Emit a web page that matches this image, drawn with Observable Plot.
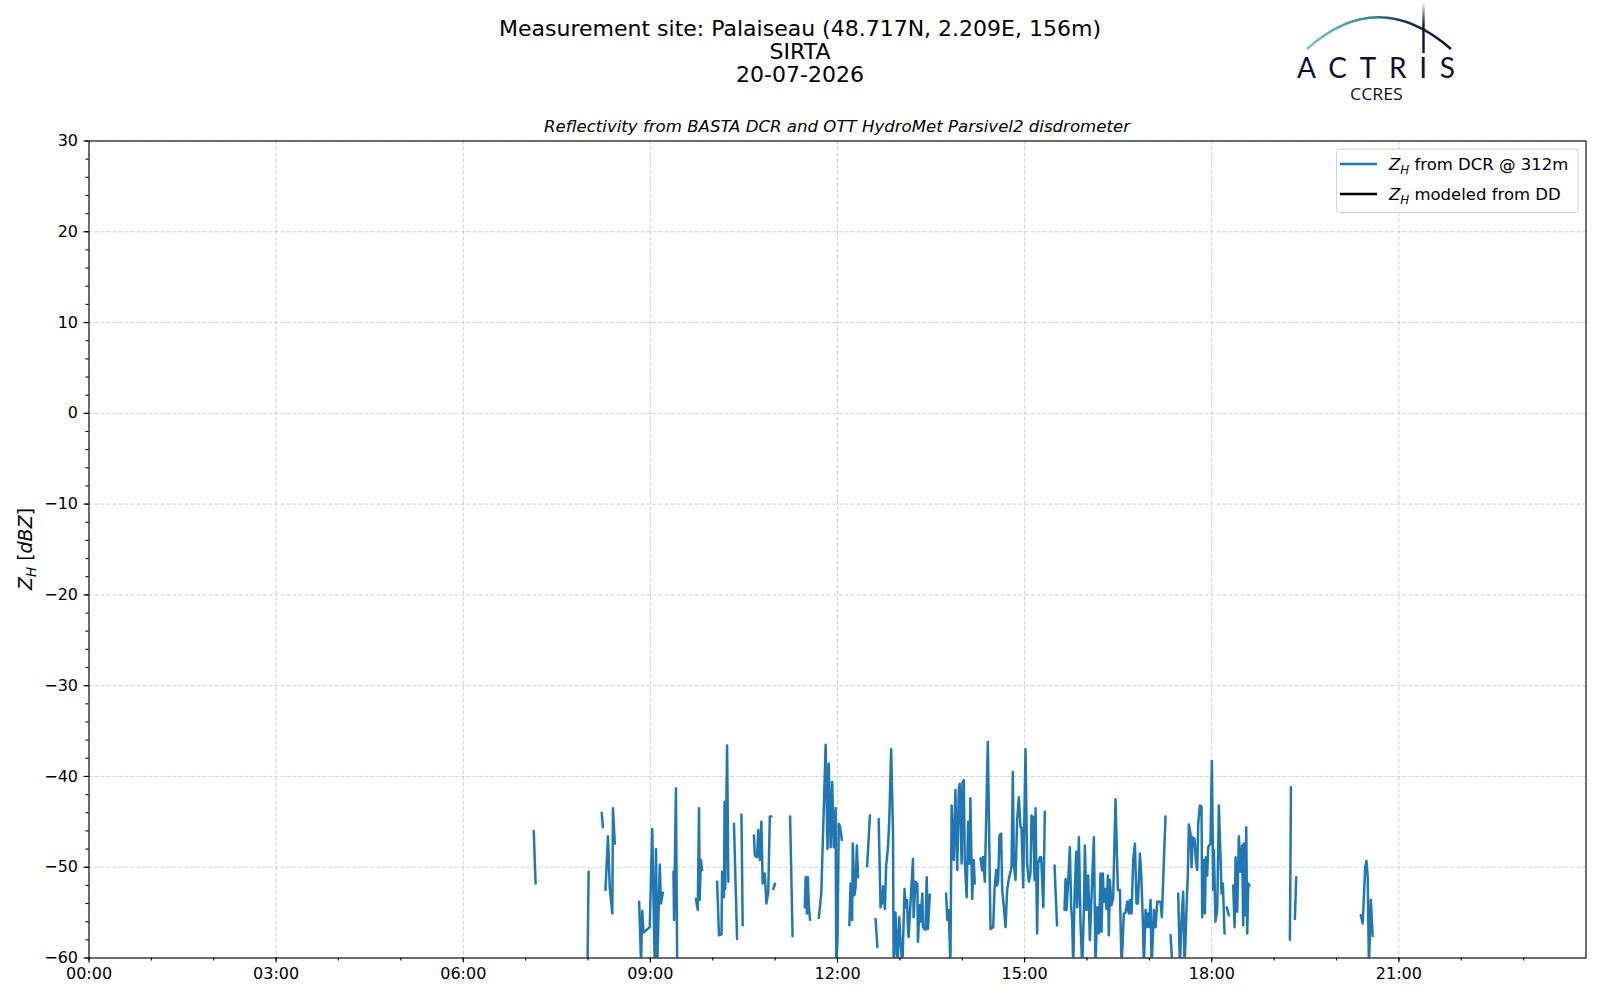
<!DOCTYPE html>
<html><head><meta charset="utf-8">
<script src="https://cdn.jsdelivr.net/npm/d3@7"></script>
<script src="https://cdn.jsdelivr.net/npm/@observablehq/plot@0.6"></script>
<style>
body{margin:0;background:#fff;}
#wrap{position:relative;width:1600px;height:1000px;overflow:hidden;font-family:"DejaVu Sans",sans-serif;}
#plot{position:absolute;left:0;top:0;}
#over{position:absolute;left:0;top:0;pointer-events:none;}
</style></head>
<body><div id="wrap"><div id="plot"></div>
<svg id="over" width="1600" height="1000" xmlns="http://www.w3.org/2000/svg" font-family="DejaVu Sans, sans-serif">
  <defs>
    <linearGradient id="arcg" x1="1307" y1="0" x2="1450" y2="0" gradientUnits="userSpaceOnUse">
      <stop offset="0" stop-color="#79c9c6"/>
      <stop offset="0.45" stop-color="#2b8693"/>
      <stop offset="0.7" stop-color="#15304f"/>
      <stop offset="1" stop-color="#0d1030"/>
    </linearGradient>
    <linearGradient id="vg" x1="0" y1="2" x2="0" y2="53" gradientUnits="userSpaceOnUse">
      <stop offset="0" stop-color="#ffffff"/>
      <stop offset="0.45" stop-color="#0d1030"/>
      <stop offset="1" stop-color="#0d1030"/>
    </linearGradient>
  </defs>
  <g font-size="22" text-anchor="middle" fill="#000">
    <text x="800" y="36">Measurement site: Palaiseau (48.717N, 2.209E, 156m)</text>
    <text x="800" y="59">SIRTA</text>
    <text x="800" y="82">20-07-2026</text>
  </g>
  <text x="837" y="132" font-size="16.6" font-style="italic" text-anchor="middle">Reflectivity from BASTA DCR and OTT HydroMet Parsivel2 disdrometer</text>
  <text transform="translate(31.5,549) rotate(-90)" font-size="19" text-anchor="middle"><tspan font-style="italic">Z</tspan><tspan font-style="italic" font-size="13.5" dy="4">H</tspan><tspan dy="-4"> [</tspan><tspan font-style="italic">dBZ</tspan><tspan>]</tspan></text>
  <!-- legend -->
  <rect x="1336.5" y="149" width="241.5" height="63.5" rx="3" fill="#fff" fill-opacity="0.8" stroke="#d0d0d0" stroke-width="1"/>
  <line x1="1340" x2="1377" y1="164" y2="164" stroke="#1f77b4" stroke-width="2.5"/>
  <line x1="1340" x2="1377" y1="194" y2="194" stroke="#000" stroke-width="2.5"/>
  <g font-size="16.5" fill="#000">
    <text x="1389" y="170"><tspan font-style="italic">Z</tspan><tspan font-style="italic" font-size="11.8" dy="3.5">H</tspan><tspan dy="-3.5"> from DCR @ 312m</tspan></text>
    <text x="1389" y="200"><tspan font-style="italic">Z</tspan><tspan font-style="italic" font-size="11.8" dy="3.5">H</tspan><tspan dy="-3.5"> modeled from DD</tspan></text>
  </g>
  <!-- logo -->
  <path d="M1307,49 Q1378,-14.5 1451,49" fill="none" stroke="url(#arcg)" stroke-width="2.6"/>
  <line x1="1423.5" x2="1423.5" y1="2" y2="53" stroke="url(#vg)" stroke-width="2.4"/>
  <text x="1297" y="78.3" font-family="Lato, 'Open Sans', sans-serif" font-size="28" fill="#0d1030" textLength="158" lengthAdjust="spacing">ACTRIS</text>
  <text x="1350" y="99.5" font-family="'Open Sans', Lato, sans-serif" font-size="17" fill="#0d1030" textLength="52.7" lengthAdjust="spacingAndGlyphs">CCRES</text>
</svg>
</div>
<script>
// time of day (decimal hours) and reflectivity Z_H (dBZ); null marks a gap in the series
const hours = [
 7.13,7.16,null,
 7.99,8.01,null,
 8.22,8.24,null,
 8.28,8.32,8.35,8.39,8.40,8.43,null,
 8.82,8.85,8.87,8.89,8.99,9.03,9.07,9.09,9.11,9.15,9.17,9.20,null,
 9.37,9.38,9.41,9.43,null,
 9.73,9.76,9.78,9.79,9.81,9.83,null,
 10.07,10.10,10.14,10.15,10.18,10.19,10.20,10.23,10.25,null,
 10.34,10.39,null,
 10.46,10.48,null,
 10.66,10.675,10.71,10.73,10.755,10.78,10.80,10.835,10.86,10.89,10.915,10.94,null,
 10.97,11.0,null,
 11.24,11.28,null,
 11.476,11.49,11.51,11.525,11.54,11.56,null,
 11.70,11.74,11.81,11.84,11.86,11.89,11.915,11.94,11.97,11.98,12.0,12.02,12.04,12.07,null,
 12.19,12.21,12.235,12.245,12.27,12.29,12.31,12.33,null,
 12.475,12.52,null,
 12.61,12.64,null,
 12.66,12.69,12.72,12.73,12.76,12.78,12.81,12.83,12.86,12.89,12.90,12.93,12.96,12.99,13.01,13.04,13.075,13.09,13.115,13.13,13.14,13.21,13.22,13.25,13.28,13.29,13.315,13.33,13.36,13.37,13.41,13.43,13.45,13.48,null,
 13.74,13.76,13.785,13.81,13.83,13.865,13.89,13.92,13.945,13.96,13.99,14.005,14.025,14.04,14.07,14.095,14.115,14.13,14.16,14.185,14.20,null,
 14.293,14.32,14.335,14.362,14.41,14.453,14.496,14.517,14.544,14.56,14.576,14.597,14.624,14.64,14.667,14.694,14.72,14.747,14.79,14.811,14.827,14.854,14.88,14.907,14.934,14.95,14.977,15.014,15.04,15.068,15.094,15.11,15.137,15.159,15.175,15.2,15.217,15.244,15.265,15.3,15.324,null,
 15.48,15.495,15.52,null,
 15.64,15.656,15.672,15.693,15.725,15.746,15.762,15.779,15.8,15.827,15.843,15.87,15.896,15.923,15.95,15.966,15.992,16.019,16.046,16.067,16.11,16.137,16.163,16.19,
 16.217,16.233,16.254,16.27,16.297,16.313,16.335,16.35,16.367,16.393,16.42,16.457,16.495,16.527,16.554,16.591,16.618,16.645,16.671,16.687,16.714,16.741,16.768,16.794,16.816,16.848,16.869,16.896,16.912,16.939,16.955,16.976,16.992,17.019,17.035,17.061,17.072,17.099,17.126,17.152,17.179,17.2,17.233,17.259,null,
 17.34,17.37,null,
 17.462,17.489,17.516,17.542,17.564,17.596,17.617,17.633,17.66,17.676,17.697,17.724,17.745,17.767,17.783,17.81,17.836,17.847,17.874,17.89,17.906,17.927,17.943,17.96,17.98,18.002,18.024,18.034,18.06,18.088,18.114,18.141,18.157,18.178,18.205,null,
 18.24,18.275,null,
 18.344,18.366,18.382,18.408,18.435,18.462,18.488,18.504,18.515,18.531,18.553,18.569,18.585,18.606,null,
 19.253,19.27,null,
 19.333,19.354,null,
 20.39,20.42,20.46,20.48,20.50,20.52,20.55,20.58
];
const zh = [
 -46.0,-51.8,null,
 -62,-50.5,null,
 -44.0,-45.6,null,
 -52.5,-46.6,-52.3,-55.1,-43.5,-47.4,null,
 -53.8,-60.5,-54.8,-57.2,-56.6,-45.8,-61,-48.0,-61,-49.7,-54.0,-52.8,null,
 -50.5,-55.8,-41.3,-61,null,
 -53.5,-54.7,-43.5,-53.6,-49.2,-50.3,null,
 -51.6,-57.5,-57.4,-50.5,-53.3,-42.8,-52.4,-36.6,-51.6,null,
 -45.2,-57.9,null,
 -44.2,-56.4,null,
 -46.5,-48.7,-48.9,-45.9,-49.2,-45.0,-51.8,-50.7,-54.0,-52.7,-44.4,-44.4,null,
 -52.4,-51.8,null,
 -44.4,-57.6,null,
 -54.4,-51.1,-55.1,-51.1,-54.2,-55.8,null,
 -55.6,-52.9,-36.5,-48.0,-38.6,-47.8,-40.6,-47.8,-43.5,-61,-58,-45.2,-45.5,-47.0,null,
 -56.4,-51.8,-55.8,-47.4,-53.1,-52.2,-47.6,-51.1,null,
 -49.9,-44.3,null,
 -55.7,-58.8,null,
 -44.7,-54.4,-53.8,-52.1,-54.6,-49.8,-47.8,-44.8,-37.0,-46.3,-61,-55.0,-61,-55.5,-58.2,-61,-52.4,-54.4,-53.6,-56.9,-57.7,-49.1,-55.5,-51.6,-51.8,-58.2,-54.2,-56.0,-52.9,-56.6,-56.9,-51.1,-56.8,-53.0,null,
 -52.9,-55.8,-54.7,-61,-43.2,-49.2,-41.5,-50.3,-41.3,-40.8,-49.6,-40.6,-40.4,-49.2,-53.3,-45.0,-49.6,-42.4,-53.5,-49.2,-51.8,null,
 -49.05,-50.34,-48.87,-51.6,-36.2,-56.8,-56.6,-52.5,-50.3,-52.0,-51.4,-46.5,-46.3,-52.5,-54.4,-56.6,-52.5,-51.3,-50.0,-39.5,-49.6,-51.4,-44.8,-42.3,-45.6,-45.6,-52.2,-37.0,-49.6,-51.6,-50.7,-44.3,-44.5,-51.4,-43.5,-57.3,-49.6,-48.9,-48.9,-54.4,-43.9,null,
 -49.8,-52.5,-56.4,null,
 -54.7,-51.3,-54.7,-52.2,-47.8,-54.4,-55.8,-61,-53.3,-48.3,-54.4,-46.7,-56.2,-61,-54.7,-47.6,-54.7,-50.9,-58.0,-54.2,-46.7,-61,-54.4,-57.3,
 -50.7,-57.1,-50.7,-53.8,-52.4,-54.6,-50.9,-57.5,-51.4,-54.2,-53.3,-42.5,-52.5,-52.5,-61,-55.1,-55.0,-53.8,-55.1,-53.6,-55.1,-49.2,-47.4,-54.0,-54.0,-48.5,-50.7,-56.0,-61,-54.7,-56.6,-55.1,-56.6,-53.6,-61,-56.8,-54.7,-56.6,-53.8,-53.8,-53.8,-55.5,-49.2,-44.4,null,
 -57.5,-61,null,
 -52.9,-61,-55.8,-52.7,-61,-54.4,-50.7,-45.3,-46.3,-50.0,-46.7,-46.9,-49.2,-50.3,-45.2,-43.2,-43.3,-55.5,-49.2,-55.1,-48.9,-50.9,-47.8,-47.6,-47.4,-38.3,-52.5,-48.1,-56.0,-54.7,-43.2,-48.9,-52.9,-51.8,-57.3,null,
 -54.4,-55.3,null,
 -52.0,-56.6,-48.9,-54.9,-46.6,-50.5,-47.6,-56.4,-47.4,-55.3,-45.6,-57.3,-51.8,-52.0,null,
 -58.0,-41.2,null,
 -55.7,-51.1,null,
 -55.3,-56.2,-50.0,-49.3,-51.0,-61,-53.6,-57.6
];
const xMajor = [0,3,6,9,12,15,18,21];
const xMinor = d3.range(0,24,1);
const yMajor = [-60,-50,-40,-30,-20,-10,0,10,20,30];
const yMinor = d3.range(-60,31,2);

const fmtX = h => String(h).padStart(2,"0") + ":00";
const fmtY = v => v < 0 ? "\u2212" + Math.abs(v) : String(v);
const idx = d3.range(hours.length);
const gridStyle = {stroke:"#b0b0b0", strokeOpacity:0.6, strokeWidth:1, strokeDasharray:"4,2"};

const chart = Plot.plot({
  width: 1600, height: 1000,
  marginLeft: 88.5, marginRight: 14.5, marginTop: 140.5, marginBottom: 42.5,
  style: {fontFamily: "DejaVu Sans, sans-serif", fontSize: "16px", color: "#000", background: "transparent"},
  x: {domain: [0, 24]},
  y: {domain: [-60, 30]},
  marks: [
    Plot.gridX(xMajor, gridStyle),
    Plot.gridY(yMajor, gridStyle),
    Plot.line(idx, {x: i => hours[i], y: i => zh[i], stroke: "#1f77b4", strokeWidth: 2.5, clip: true}),
    Plot.frame({stroke: "#000", strokeWidth: 1.1}),
    Plot.axisX(xMajor, {tickSize: 5, tickPadding: 5, tickFormat: fmtX, strokeWidth: 1.1, fontSize: 16, label: null}),
    Plot.axisX(xMinor, {tickSize: 3, tickFormat: () => "", strokeWidth: 1.1, label: null}),
    Plot.axisY(yMajor, {tickSize: 5, tickPadding: 6, tickFormat: fmtY, strokeWidth: 1.1, fontSize: 16, label: null}),
    Plot.axisY(yMinor, {tickSize: 3, tickFormat: () => "", strokeWidth: 1.1, label: null})
  ]
});
document.getElementById("plot").appendChild(chart);
</script>
</body></html>
